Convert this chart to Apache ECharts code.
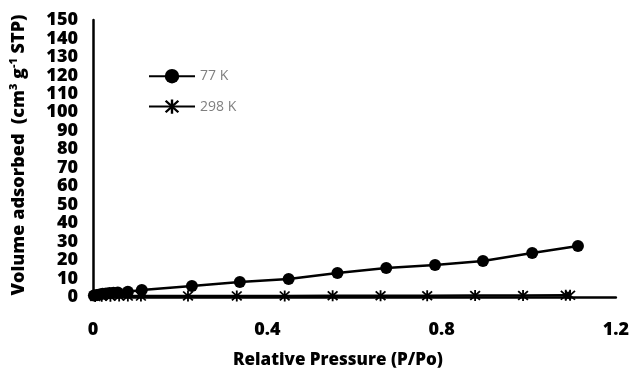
<!DOCTYPE html>
<html>
<head>
<meta charset="utf-8">
<script src="https://cdn.jsdelivr.net/npm/echarts@6/dist/echarts.min.js"></script>
<style>
  html, body { margin: 0; padding: 0; background: #fff; }
  #chart { width: 632px; height: 371px; }
</style>
</head>
<body>
<div id="chart"></div>
<script>
// Nitrogen (77 K) and room-temperature (298 K) adsorption isotherms
const seriesNames = ['77 K', '298 K'];

const pressure77 = [0.002, 0.008, 0.015, 0.022, 0.030, 0.038, 0.047, 0.057, 0.080, 0.112,
                    0.227, 0.337, 0.449, 0.561, 0.673, 0.785, 0.895, 1.008, 1.113];
const volume77   = [0.8, 1.1, 1.4, 1.7, 1.9, 2.1, 2.3, 2.5, 2.9, 3.8,
                    6.0, 8.1, 9.7, 13.0, 15.7, 17.3, 19.5, 23.8, 27.6];

const pressure298 = [0.005, 0.020, 0.040, 0.060, 0.080, 0.110, 0.218, 0.330, 0.440, 0.550,
                     0.660, 0.767, 0.877, 0.987, 1.085, 1.095];
const volume298   = [0.3, 0.4, 0.4, 0.5, 0.5, 0.5, 0.6, 0.6, 0.6, 0.7,
                     0.7, 0.7, 0.8, 0.8, 0.9, 0.9];

const xTicks = { min: 0, max: 1.2, step: 0.4 };
const yTicks = { min: 0, max: 150, step: 10 };

const pairs = (xs, ys) => xs.map((x, i) => [x, ys[i]]);

// six-spoke asterisk marker
const asterisk = 'path://M4.25,0L5.75,0L5.75,10L4.25,10Z' +
  'M0.47,1.53L1.53,0.47L9.53,8.47L8.47,9.53Z' +
  'M8.47,0.47L9.53,1.53L1.53,9.53L0.47,8.47Z';

const heavyFont = '"Open Sans", "DejaVu Sans", sans-serif';
const plainFont = '"Open Sans", "DejaVu Sans", sans-serif';

const chart = echarts.init(document.getElementById('chart'), null, { renderer: 'canvas' });

chart.setOption({
  animation: false,
  backgroundColor: '#ffffff',
  grid: { left: 93, right: 15, top: 20, bottom: 74, containLabel: false },
  legend: {
    orient: 'vertical',
    left: 143,
    top: 64,
    padding: 5,
    itemWidth: 46,
    itemHeight: 18,
    itemGap: 16,
    data: seriesNames,
    textStyle: { color: '#7f7f7f', fontSize: 14, fontFamily: plainFont }
  },
  xAxis: {
    type: 'value',
    min: xTicks.min, max: xTicks.max, interval: xTicks.step,
    axisLine: { show: true, onZero: false, lineStyle: { color: '#000', width: 2.5 } },
    axisTick: { show: false },
    splitLine: { show: false },
    axisLabel: { margin: 24, color: '#000', fontSize: 18, fontWeight: 800, fontFamily: heavyFont, showMinLabel: true, showMaxLabel: true }
  },
  yAxis: {
    type: 'value',
    min: yTicks.min, max: yTicks.max, interval: yTicks.step,
    axisLine: { show: true, lineStyle: { color: '#000', width: 2.5 } },
    axisTick: { show: false },
    splitLine: { show: false },
    axisLabel: { margin: 15, color: '#000', fontSize: 18, fontWeight: 800, fontFamily: heavyFont, showMinLabel: true, showMaxLabel: true }
  },
  graphic: [
    {
      type: 'text',
      x: 338, y: 360,
      style: {
        text: 'Relative Pressure (P/Po)',
        fill: '#000',
        font: '800 17px ' + heavyFont,
        align: 'center',
        verticalAlign: 'middle'
      }
    },
    {
      type: 'text',
      x: 19, y: 155,
      rotation: Math.PI / 2,
      style: {
        text: '{a|Volume adsorbed  (cm}{s|3}{a| g}{s|-1}{a| STP)}',
        align: 'center',
        verticalAlign: 'middle',
        rich: {
          a: { fill: '#000', fontSize: 18, fontWeight: 800, fontFamily: heavyFont, lineHeight: 22 },
          s: { fill: '#000', fontSize: 11, fontWeight: 800, fontFamily: heavyFont, lineHeight: 22, verticalAlign: 'top' }
        }
      }
    }
  ],
  series: [
    {
      name: seriesNames[0],
      type: 'line',
      data: pairs(pressure77, volume77),
      symbol: 'circle',
      symbolSize: 12,
      itemStyle: { color: '#000' },
      lineStyle: { color: '#000', width: 2.5 },
      z: 3
    },
    {
      name: seriesNames[1],
      type: 'line',
      data: pairs(pressure298, volume298),
      symbol: asterisk,
      symbolSize: 11,
      itemStyle: { color: '#000' },
      lineStyle: { color: '#000', width: 2.5 },
      z: 2
    }
  ]
});
</script>
</body>
</html>
